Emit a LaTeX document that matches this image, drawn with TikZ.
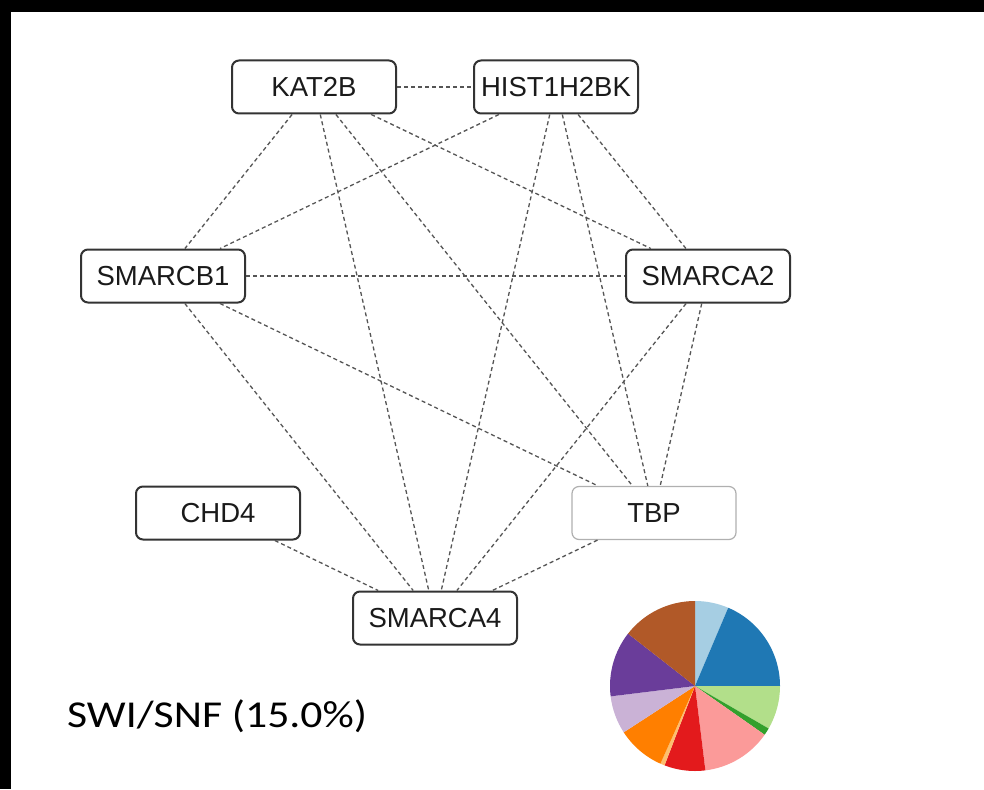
\documentclass[tikz,border=0pt]{standalone}
\usepackage{fontspec}
\setmainfont{Liberation Sans}
\newfontfamily\labelfont{Carlito}
\definecolor{boxline}{HTML}{333333}
\definecolor{faintline}{HTML}{B0B0B0}
\definecolor{linkgray}{HTML}{555555}
\definecolor{textgray}{HTML}{1A1A1A}
\definecolor{pA}{HTML}{A6CEE3}
\definecolor{pB}{HTML}{1F78B4}
\definecolor{pC}{HTML}{B2DF8A}
\definecolor{pD}{HTML}{33A02C}
\definecolor{pE}{HTML}{FB9A99}
\definecolor{pF}{HTML}{E31A1C}
\definecolor{pG}{HTML}{FDBF6F}
\definecolor{pH}{HTML}{FF7F00}
\definecolor{pI}{HTML}{CAB2D6}
\definecolor{pJ}{HTML}{6A3D9A}
\definecolor{pK}{HTML}{B15928}
\begin{document}
\begin{tikzpicture}[x=1pt,y=-1pt,
  gene/.style={draw=boxline, line width=2pt, rounded corners=7pt,
    minimum width=164pt, minimum height=53pt, inner sep=0pt,
    font=\fontsize{27.5}{31}\selectfont, text=textgray, fill=white},
  link/.style={draw=linkgray, line width=1.3pt, dash pattern=on 4pt off 3pt}]
% canvas and dark frame strips
\useasboundingbox (0,0) rectangle (984,789);
\fill[white] (0,0) rectangle (984,789);
\fill[black] (0,0) rectangle (984,12);
\fill[black] (0,0) rectangle (11,789);

% protein nodes
\node[gene] (kat2b) at (314,87) {KAT2B};
\node[gene] (hist) at (556,87) {HIST1H2BK};
\node[gene] (smarcb1) at (163,276) {SMARCB1};
\node[gene] (smarca2) at (708,276) {SMARCA2};
\node[gene] (chd4) at (218,513) {CHD4};
\node[gene, draw=faintline, line width=1.2pt] (tbp) at (654,513) {TBP};
\node[gene] (smarca4) at (435,618) {SMARCA4};

% interactions
\draw[link] (kat2b) -- (hist);
\draw[link] (kat2b) -- (smarcb1);
\draw[link] (kat2b) -- (smarca4);
\draw[link] (kat2b) -- (tbp);
\draw[link] (kat2b) -- (smarca2);
\draw[link] (hist) -- (smarcb1);
\draw[link] (hist) -- (smarca4);
\draw[link] (hist) -- (tbp);
\draw[link] (hist) -- (smarca2);
\draw[link] (smarcb1) -- (smarca2);
\draw[link] (smarcb1) -- (smarca4);
\draw[link] (smarcb1) -- (tbp);
\draw[link] (smarca2) -- (smarca4);
\draw[link] (smarca2) -- (tbp);
\draw[link] (chd4) -- (smarca4);
\draw[link] (tbp) -- (smarca4);

% complex label
\node[anchor=base west, inner sep=0pt, text=black] (cplx) at (67,727)
  {\scalebox{1.15}[1]{\labelfont\fontsize{38}{42}\selectfont SWI/SNF (15.0\%)}};

% composition pie (angles run clockwise from north here)
\coordinate (pc) at (695,686);
\foreach \a/\b/\c in {0/23/pA, 23/90/pB, 90/120/pC, 120/125/pD, 125/173/pE,
  173/201/pF, 201/204/pG, 204/237/pH, 237/263/pI, 263/308/pJ, 308/360/pK}{
  \fill[\c] (pc) -- ++({\a-90}:85) arc[start angle={\a-90}, end angle={\b-90}, radius=85] -- cycle;
}
\end{tikzpicture}
\end{document}
